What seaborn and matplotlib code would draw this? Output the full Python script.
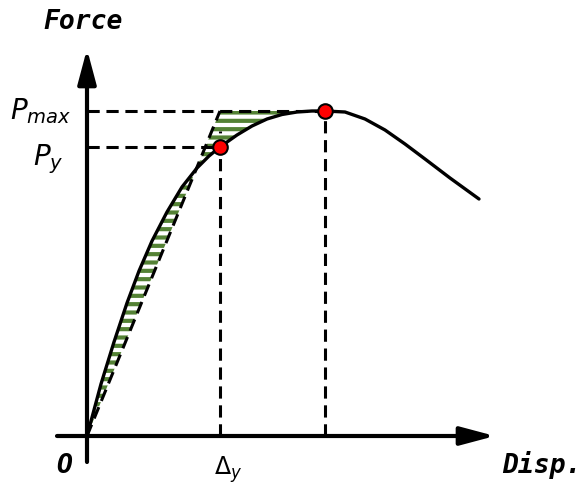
import numpy as np
import matplotlib
matplotlib.use("Agg")
import matplotlib.pyplot as plt
import seaborn as sns

# force-displacement curve (units ~ pixels from origin)
disp = [0, 14, 27, 40, 52, 65, 80, 95, 110, 122, 133, 150, 165, 180, 195,
        210, 225, 238, 258, 278, 298, 318, 338, 363, 392]
force = [0, 52, 94, 133, 165, 195, 224, 249, 268, 280, 289, 301, 310, 317, 321.5,
         324, 325, 325, 324, 317, 306, 292, 277, 258, 237]

# yield and peak points
delta_y = 133
p_y = 289
delta_max = 238
p_max = 325

# axis extents
x_axis = [-30, 408]
y_axis = [-26, 387]

sns.set_style("white")
plt.rcParams["hatch.linewidth"] = 3.0
plt.rcParams["mathtext.fontset"] = "dejavusans"
plt.rcParams["text.color"] = "black"

fig = plt.figure(figsize=(5.84, 4.84), dpi=100)
ax = fig.add_axes([0, 0, 1, 1])
ax.set_xlim(-87, 497)
ax.set_ylim(-48, 436)
ax.axis("off")

green = "#548235"
dash = (4, 2.2)

# equal-energy hatch between curve and the idealised bilinear line
d = np.array(disp)
f = np.array(force)
keep = d <= delta_max
upper = np.minimum(p_max / delta_y * d[keep], p_max)
ax.fill_between(d[keep], f[keep], upper, facecolor="none", edgecolor=green,
                hatch="--", linewidth=0, zorder=1)

# dashed guide lines
ax.plot([0, delta_y], [0, p_max], color="black", lw=2.2, dashes=dash, zorder=2)
ax.plot([0, delta_max], [p_max, p_max], color="black", lw=2.2, dashes=dash, zorder=2)
ax.plot([0, delta_y], [p_y, p_y], color="black", lw=2.2, dashes=dash, zorder=2)
ax.plot([delta_y, delta_y], [0, p_y + 16], color="black", lw=2.2, dashes=dash, zorder=2)
ax.plot([delta_max, delta_max], [0, p_max], color="black", lw=2.2, dashes=dash, zorder=2)

# main curve
sns.lineplot(x=disp, y=force, color="black", lw=2.4, sort=False,
             estimator=None, ax=ax, zorder=3)

# axes with arrows
arrow = dict(arrowstyle="-|>,head_length=1.5,head_width=0.4", lw=3,
             color="black", mutation_scale=14, shrinkA=0, shrinkB=0)
ax.annotate("", xy=(x_axis[1], 0), xytext=(x_axis[0], 0), arrowprops=arrow, zorder=4)
ax.annotate("", xy=(0, y_axis[1]), xytext=(0, y_axis[0]), arrowprops=arrow, zorder=4)

# key points
sns.scatterplot(x=[delta_y, delta_max], y=[p_y, p_max], s=110, color="red",
                edgecolor="black", linewidth=1.5, ax=ax, zorder=5)

# labels
mono = dict(family="DejaVu Sans Mono", weight="bold", style="italic",
            fontsize=19, color="black")
ax.text(-4, 414, "Force", ha="center", va="center", **mono)
ax.text(415, -37, "Disp.", ha="left", va="baseline", **mono)
ax.text(-31, -37, "O", ha="left", va="baseline", **mono)
ax.text(127, -39, r"$\mathit{\Delta}_{y}$", ha="left", va="baseline", fontsize=17)
ax.text(-77, 317, r"$P_{max}$", ha="left", va="baseline", fontsize=20)
ax.text(-54, 271, r"$P_{y}$", ha="left", va="baseline", fontsize=20)

fig.savefig("out.png", dpi=100)
